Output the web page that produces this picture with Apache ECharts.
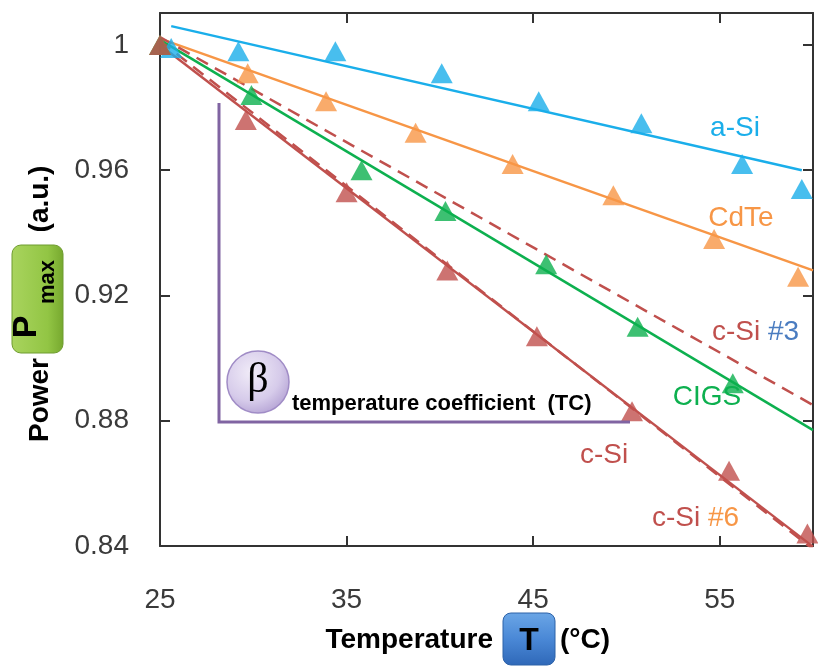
<!DOCTYPE html>
<html><head><meta charset="utf-8">
<script src="https://cdn.jsdelivr.net/npm/echarts@6/dist/echarts.min.js"></script>
<style>html,body{margin:0;padding:0;background:#fff}#c{width:818px;height:666px}</style>
</head><body><div id="c"></div>
<script>
// ---- data ----
const xTicks = [25, 35, 45, 55];
const yTicks = [0.84, 0.88, 0.92, 0.96, 1];

const aSiT = [25.6, 29.2, 34.4, 40.1, 45.3, 50.8, 56.2, 59.4];
const aSiP = [0.999, 0.998, 0.998, 0.991, 0.982, 0.975, 0.962, 0.954];
const aSiFitT = [25.6, 59.4];
const aSiFitP = [1.006, 0.960];

const cdteT = [25, 29.7, 33.9, 38.7, 43.9, 49.3, 54.7, 59.2];
const cdteP = [1.0, 0.991, 0.982, 0.972, 0.962, 0.952, 0.938, 0.926];
const cdteFitT = [25, 60];
const cdteFitP = [1.002, 0.928];

const cigsT = [25, 29.9, 35.8, 40.3, 45.7, 50.6, 55.7];
const cigsP = [1.0, 0.984, 0.960, 0.947, 0.930, 0.910, 0.892];
const cigsFitT = [25, 60];
const cigsFitP = [1.0016, 0.877];

const cSi3FitT = [25, 60];
const cSi3FitP = [1.0025, 0.885];

const cSiT = [25, 29.6, 35.0, 40.4, 45.2, 50.3, 55.5, 59.7];
const cSiP = [1.0, 0.976, 0.953, 0.928, 0.907, 0.883, 0.864, 0.844];
const cSiFitT = [25, 60];
const cSiFitP = [1.0, 0.8398];

const cSi6FitT = [25, 60];
const cSi6FitP = [1.0013, 0.839];

// ---- style ----
const BLUE = '#1AAEEA', ORANGE = '#F79646', GREEN = '#0DB04F', RED = '#C0504D', PURPLE = '#8064A2';
const FONT = 'Liberation Sans';
const AX = '#333333';

function pts(t, p) { return t.map((x, i) => [x, p[i]]); }
function fit(t, p, color, dashed) {
  return { type: 'line', data: pts(t, p), symbol: 'none', silent: true, z: 2,
    lineStyle: { color: color, width: 2.5, type: dashed ? [13, 8] : 'solid' } };
}
function marks(t, p, color) {
  return { type: 'scatter', data: pts(t, p), symbol: 'triangle', symbolSize: [22, 20],
    clip: false, z: 3, itemStyle: { color: color } };
}
function isTick(arr, v) { return arr.some(a => Math.abs(a - v) < 1e-6); }

const axisLine = { show: true, lineStyle: { color: AX, width: 2 } };
const axisTick = { show: true, inside: true, length: 10, lineStyle: { color: AX, width: 2 } };

const chart = echarts.init(document.getElementById('c'), null, { renderer: 'canvas' });

function txt(x, y, text, opts) {
  const o = Object.assign({ font: '28px ' + FONT, fill: '#000', align: 'center', vAlign: 'middle', rotation: 0 }, opts || {});
  return { type: 'text', x: x, y: y, rotation: o.rotation, z: 10,
    style: { text: text, font: o.font, fill: o.fill, align: o.align, verticalAlign: o.vAlign,
      textAlign: o.align, textVerticalAlign: o.vAlign, rich: o.rich } };
}

const R = Math.PI / 2;
chart.setOption({
  animation: false,
  backgroundColor: '#fff',
  grid: { left: 160, right: 5, top: 13, bottom: 120 },
  xAxis: [
    { type: 'value', min: 25, max: 60, interval: 10, position: 'bottom',
      axisLine: axisLine, axisTick: axisTick, splitLine: { show: false },
      axisLabel: { margin: 40, fontSize: 28, fontFamily: FONT, color: '#3a3a3a',
        formatter: v => isTick(xTicks, v) ? String(v) : '' } },
    { type: 'value', min: 25, max: 60, interval: 10, position: 'top',
      axisLine: axisLine, axisTick: axisTick, splitLine: { show: false }, axisLabel: { show: false } }
  ],
  yAxis: [
    { type: 'value', min: 0.84, max: 1.0102, interval: 0.04, position: 'left',
      axisLine: axisLine, axisTick: axisTick, splitLine: { show: false },
      axisLabel: { margin: 31, fontSize: 28, fontFamily: FONT, color: '#3a3a3a',
        formatter: v => Math.abs(v - 1) < 1e-6 ? '1' : (isTick(yTicks, v) ? v.toFixed(2) : '') } },
    { type: 'value', min: 0.84, max: 1.0102, interval: 0.04, position: 'right',
      axisLine: axisLine, axisTick: axisTick, splitLine: { show: false }, axisLabel: { show: false } }
  ],
  series: [
    fit(aSiFitT, aSiFitP, BLUE, false),
    fit(cdteFitT, cdteFitP, ORANGE, false),
    fit(cigsFitT, cigsFitP, GREEN, false),
    fit(cSi3FitT, cSi3FitP, RED, true),
    fit(cSiFitT, cSiFitP, RED, false),
    fit(cSi6FitT, cSi6FitP, RED, true),
    marks(aSiT, aSiP, BLUE),
    marks(cdteT, cdteP, ORANGE),
    marks(cigsT, cigsP, GREEN),
    marks(cSiT, cSiP, RED)
  ],
  graphic: [
    // y-axis title
    txt(40, 199, '(a.u.)', { font: 'bold 28px ' + FONT, rotation: R }),
    { type: 'rect', z: 9, shape: { x: 12, y: 245, width: 51, height: 108, r: 9 },
      style: { fill: new echarts.graphic.LinearGradient(0, 0, 1, 0, [
        { offset: 0, color: '#A9D45E' }, { offset: 0.7, color: '#92C544' }, { offset: 1, color: '#76A82E' }]),
        stroke: '#6F9C30', lineWidth: 1 } },
    txt(27, 327, 'P', { font: 'bold 34px ' + FONT, rotation: R }),
    txt(48, 282, 'max', { font: 'bold 22px ' + FONT, rotation: R }),
    txt(40, 400, 'Power', { font: 'bold 28px ' + FONT, rotation: R }),
    // x-axis title
    txt(493, 640, 'Temperature', { font: 'bold 28px ' + FONT, align: 'right' }),
    { type: 'rect', z: 9, shape: { x: 503, y: 613, width: 52, height: 52, r: 8 },
      style: { fill: new echarts.graphic.LinearGradient(0, 0, 0, 1, [
        { offset: 0, color: '#6BA6E6' }, { offset: 0.5, color: '#4A88D6' }, { offset: 1, color: '#2F68B8' }]),
        stroke: '#2D62A8', lineWidth: 1 } },
    txt(529, 641, 'T', { font: 'bold 32px ' + FONT }),
    txt(560, 640, '(°C)', { font: 'bold 28px ' + FONT, align: 'left' }),
    // beta annotation
    { type: 'polyline', z: 5, shape: { points: [[219, 103], [219, 422], [630, 422]] },
      style: { stroke: PURPLE, lineWidth: 3, fill: null } },
    { type: 'circle', z: 9, shape: { cx: 258, cy: 382, r: 31 },
      style: { fill: new echarts.graphic.RadialGradient(0.4, 0.35, 0.75, [
        { offset: 0, color: '#F1ECF8' }, { offset: 0.6, color: '#D6CBEA' }, { offset: 1, color: '#AE9BD0' }]),
        stroke: '#A08CC6', lineWidth: 1.5 } },
    txt(258, 381, 'β', { font: '42px Liberation Serif' }),
    txt(292, 404, 'temperature coefficient  (TC)', { font: 'bold 22px ' + FONT, align: 'left' }),
    // series labels
    txt(735, 128, 'a-Si', { fill: BLUE }),
    txt(741, 218, 'CdTe', { fill: ORANGE }),
    txt(712, 332, '{r|c-Si }{b|#3}', { align: 'left',
      rich: { r: { fill: RED, color: RED, font: '28px ' + FONT }, b: { fill: '#4A7CC0', color: '#4A7CC0', font: '28px ' + FONT } } }),
    txt(707, 397, 'CIGS', { fill: GREEN }),
    txt(604, 455, 'c-Si', { fill: RED }),
    txt(652, 518, '{r|c-Si }{b|#6}', { align: 'left',
      rich: { r: { fill: RED, color: RED, font: '28px ' + FONT }, b: { fill: ORANGE, color: ORANGE, font: '28px ' + FONT } } })
  ]
});
</script>
</body></html>
